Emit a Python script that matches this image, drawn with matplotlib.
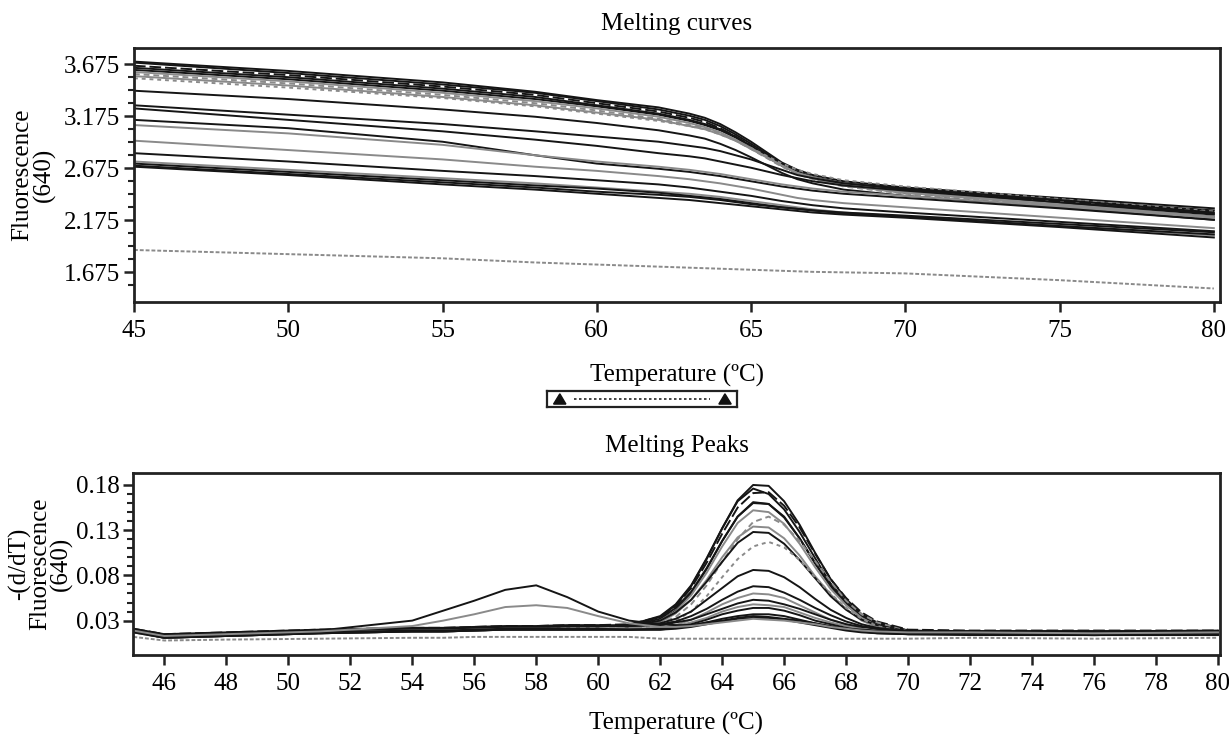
import numpy as np
import matplotlib
matplotlib.use("Agg")
import matplotlib.pyplot as plt
from matplotlib.ticker import FixedLocator
from matplotlib.patches import Polygon

# Temperaturas de muestreo (ºC)
temp_curvas = [45, 50, 55, 58, 60, 62, 63, 63.5, 64, 64.5, 65, 65.5, 66, 66.5, 67, 68, 70, 75, 80]
temp_picos = [45, 46, 48, 51, 54, 55, 56, 57, 58, 59, 60, 61,
              62, 62.5, 63, 63.5, 64, 64.5, 65, 65.5, 66, 66.5, 67, 67.5, 68, 68.5, 69, 70,
              72, 76, 80]

# Curvas de fusión - Fluorescence (640), una por muestra
m01 = [3.70, 3.61, 3.50, 3.41, 3.33, 3.26, 3.20, 3.16, 3.10, 3.02, 2.93, 2.83, 2.73, 2.66, 2.61, 2.55, 2.49, 2.39, 2.29]
m02 = [3.69, 3.59, 3.48, 3.40, 3.32, 3.24, 3.18, 3.14, 3.08, 3.00, 2.91, 2.815, 2.72, 2.64, 2.59, 2.53, 2.47, 2.37, 2.27]
m03 = [3.66, 3.57, 3.46, 3.38, 3.30, 3.22, 3.16, 3.12, 3.06, 2.98, 2.89, 2.795, 2.70, 2.63, 2.58, 2.52, 2.46, 2.36, 2.26]
m04 = [3.64, 3.55, 3.44, 3.36, 3.28, 3.20, 3.14, 3.10, 3.05, 2.98, 2.89, 2.80, 2.71, 2.64, 2.59, 2.52, 2.45, 2.34, 2.23]
m05 = [3.62, 3.53, 3.42, 3.34, 3.27, 3.19, 3.13, 3.09, 3.04, 2.97, 2.88, 2.79, 2.70, 2.63, 2.58, 2.51, 2.44, 2.33, 2.21]
m06 = [3.60, 3.51, 3.40, 3.32, 3.25, 3.17, 3.11, 3.07, 3.02, 2.95, 2.87, 2.785, 2.70, 2.63, 2.58, 2.51, 2.44, 2.32, 2.20]
m07 = [3.58, 3.49, 3.38, 3.30, 3.23, 3.15, 3.09, 3.06, 3.01, 2.94, 2.86, 2.775, 2.69, 2.62, 2.57, 2.50, 2.43, 2.31, 2.19]
m08 = [3.56, 3.47, 3.36, 3.28, 3.21, 3.14, 3.08, 3.05, 3.00, 2.94, 2.86, 2.78, 2.70, 2.63, 2.59, 2.52, 2.45, 2.33, 2.21]
m09 = [3.42, 3.34, 3.24, 3.17, 3.11, 3.04, 2.99, 2.96, 2.91, 2.85, 2.78, 2.705, 2.63, 2.57, 2.53, 2.47, 2.41, 2.30, 2.18]
m10 = [3.54, 3.45, 3.35, 3.27, 3.20, 3.13, 3.08, 3.05, 3.00, 2.94, 2.87, 2.795, 2.72, 2.66, 2.62, 2.56, 2.50, 2.38, 2.26]
m11 = [3.28, 3.19, 3.10, 3.03, 2.98, 2.93, 2.89, 2.87, 2.84, 2.80, 2.76, 2.71, 2.66, 2.61, 2.58, 2.53, 2.48, 2.37, 2.25]
m12 = [3.25, 3.14, 3.03, 2.95, 2.89, 2.82, 2.79, 2.77, 2.74, 2.71, 2.68, 2.645, 2.61, 2.58, 2.55, 2.51, 2.46, 2.35, 2.24]
m13 = [2.94, 2.85, 2.76, 2.69, 2.65, 2.60, 2.57, 2.55, 2.53, 2.505, 2.48, 2.45, 2.42, 2.39, 2.37, 2.34, 2.30, 2.20, 2.10]
m14 = [2.74, 2.66, 2.58, 2.53, 2.49, 2.45, 2.43, 2.415, 2.40, 2.38, 2.36, 2.34, 2.32, 2.30, 2.28, 2.25, 2.21, 2.12, 2.03]
m15 = [2.82, 2.74, 2.65, 2.60, 2.56, 2.52, 2.49, 2.47, 2.45, 2.43, 2.41, 2.385, 2.36, 2.34, 2.32, 2.29, 2.25, 2.16, 2.07]
m16 = [2.72, 2.64, 2.56, 2.51, 2.48, 2.44, 2.41, 2.395, 2.38, 2.36, 2.34, 2.32, 2.30, 2.285, 2.27, 2.24, 2.21, 2.12, 2.04]
m17 = [2.70, 2.62, 2.54, 2.49, 2.45, 2.42, 2.40, 2.385, 2.37, 2.35, 2.33, 2.315, 2.30, 2.285, 2.27, 2.25, 2.22, 2.14, 2.06]
m18 = [2.69, 2.61, 2.52, 2.47, 2.43, 2.39, 2.37, 2.355, 2.34, 2.325, 2.31, 2.295, 2.28, 2.265, 2.25, 2.23, 2.20, 2.11, 2.01]
m19 = [3.14, 3.06, 2.93, 2.80, 2.72, 2.67, 2.64, 2.62, 2.60, 2.575, 2.55, 2.525, 2.50, 2.48, 2.46, 2.43, 2.39, 2.29, 2.18]
m20 = [3.09, 3.01, 2.90, 2.80, 2.74, 2.69, 2.66, 2.64, 2.62, 2.595, 2.57, 2.545, 2.52, 2.50, 2.48, 2.45, 2.41, 2.31, 2.20]
m21 = [1.89, 1.85, 1.81, 1.77, 1.75, 1.73, 1.72, 1.715, 1.71, 1.705, 1.70, 1.695, 1.69, 1.685, 1.68, 1.675, 1.665, 1.60, 1.52]

# Picos de fusión - -(d/dT) Fluorescence (640)
p01 = [0.020, 0.014, 0.016, 0.019, 0.021, 0.021, 0.022, 0.023, 0.023, 0.024, 0.024, 0.025,
       0.034, 0.047, 0.068, 0.098, 0.132, 0.163, 0.180, 0.179, 0.162, 0.136, 0.105, 0.076, 0.054, 0.037, 0.028, 0.019,
       0.018, 0.018, 0.018]
p02 = [0.019, 0.013, 0.015, 0.018, 0.020, 0.021, 0.021, 0.022, 0.022, 0.023, 0.023, 0.025,
       0.035, 0.048, 0.069, 0.099, 0.132, 0.162, 0.176, 0.170, 0.153, 0.128, 0.099, 0.071, 0.051, 0.035, 0.027, 0.019,
       0.017, 0.017, 0.018]
p03 = [0.021, 0.015, 0.017, 0.020, 0.022, 0.022, 0.023, 0.024, 0.024, 0.025, 0.025, 0.026,
       0.034, 0.046, 0.066, 0.094, 0.126, 0.155, 0.171, 0.172, 0.157, 0.133, 0.104, 0.076, 0.055, 0.039, 0.029, 0.020,
       0.019, 0.019, 0.019]
p04 = [0.018, 0.011, 0.013, 0.016, 0.018, 0.018, 0.019, 0.020, 0.020, 0.020, 0.020, 0.022,
       0.030, 0.041, 0.060, 0.087, 0.118, 0.145, 0.161, 0.159, 0.145, 0.121, 0.093, 0.068, 0.048, 0.033, 0.024, 0.016,
       0.015, 0.014, 0.015]
p05 = [0.020, 0.014, 0.016, 0.019, 0.021, 0.021, 0.022, 0.023, 0.023, 0.024, 0.024, 0.024,
       0.032, 0.044, 0.062, 0.088, 0.118, 0.145, 0.160, 0.159, 0.144, 0.121, 0.094, 0.069, 0.049, 0.035, 0.027, 0.018,
       0.018, 0.018, 0.018]
p06 = [0.017, 0.012, 0.014, 0.017, 0.019, 0.019, 0.020, 0.021, 0.021, 0.021, 0.021, 0.021,
       0.030, 0.040, 0.058, 0.083, 0.112, 0.138, 0.152, 0.150, 0.137, 0.115, 0.089, 0.065, 0.047, 0.033, 0.024, 0.017,
       0.016, 0.015, 0.016]
p07 = [0.019, 0.013, 0.015, 0.018, 0.020, 0.020, 0.021, 0.022, 0.022, 0.023, 0.023, 0.023,
       0.027, 0.034, 0.048, 0.069, 0.095, 0.120, 0.139, 0.145, 0.136, 0.118, 0.096, 0.073, 0.052, 0.037, 0.028, 0.018,
       0.017, 0.017, 0.017]
p08 = [0.018, 0.012, 0.014, 0.017, 0.019, 0.019, 0.020, 0.021, 0.021, 0.021, 0.021, 0.021,
       0.028, 0.038, 0.053, 0.075, 0.100, 0.122, 0.134, 0.133, 0.121, 0.102, 0.079, 0.059, 0.043, 0.030, 0.023, 0.017,
       0.016, 0.015, 0.016]
p09 = [0.020, 0.014, 0.016, 0.019, 0.021, 0.021, 0.022, 0.023, 0.023, 0.024, 0.024, 0.024,
       0.030, 0.039, 0.053, 0.073, 0.095, 0.116, 0.128, 0.127, 0.115, 0.097, 0.077, 0.057, 0.042, 0.031, 0.025, 0.018,
       0.018, 0.018, 0.018]
p10 = [0.017, 0.011, 0.013, 0.016, 0.018, 0.018, 0.019, 0.020, 0.020, 0.020, 0.020, 0.021,
       0.024, 0.030, 0.040, 0.057, 0.078, 0.098, 0.112, 0.117, 0.111, 0.097, 0.078, 0.060, 0.044, 0.032, 0.024, 0.017,
       0.015, 0.014, 0.015]
p11 = [0.020, 0.014, 0.016, 0.019, 0.021, 0.021, 0.022, 0.023, 0.023, 0.024, 0.024, 0.025,
       0.027, 0.032, 0.040, 0.053, 0.066, 0.079, 0.086, 0.085, 0.078, 0.067, 0.054, 0.042, 0.033, 0.026, 0.022, 0.018,
       0.018, 0.018, 0.018]
p12 = [0.020, 0.014, 0.016, 0.019, 0.021, 0.021, 0.022, 0.023, 0.023, 0.024, 0.024, 0.024,
       0.026, 0.029, 0.035, 0.043, 0.053, 0.062, 0.068, 0.067, 0.061, 0.053, 0.044, 0.036, 0.029, 0.024, 0.021, 0.018,
       0.017, 0.017, 0.018]
p13 = [0.017, 0.011, 0.013, 0.016, 0.018, 0.018, 0.019, 0.020, 0.020, 0.020, 0.020, 0.020,
       0.022, 0.025, 0.031, 0.039, 0.048, 0.055, 0.060, 0.059, 0.055, 0.047, 0.039, 0.031, 0.026, 0.021, 0.018, 0.015,
       0.015, 0.014, 0.015]
p14 = [0.018, 0.012, 0.014, 0.017, 0.019, 0.019, 0.020, 0.021, 0.021, 0.021, 0.021, 0.021,
       0.022, 0.024, 0.028, 0.033, 0.040, 0.045, 0.048, 0.047, 0.045, 0.039, 0.033, 0.028, 0.024, 0.020, 0.018, 0.016,
       0.016, 0.015, 0.016]
p15 = [0.021, 0.015, 0.017, 0.020, 0.022, 0.022, 0.023, 0.024, 0.024, 0.025, 0.025, 0.024,
       0.025, 0.028, 0.031, 0.037, 0.043, 0.049, 0.053, 0.052, 0.048, 0.043, 0.037, 0.031, 0.026, 0.023, 0.021, 0.018,
       0.018, 0.018, 0.019]
p16 = [0.019, 0.012, 0.014, 0.017, 0.019, 0.019, 0.020, 0.021, 0.021, 0.021, 0.021, 0.020,
       0.021, 0.023, 0.026, 0.031, 0.037, 0.041, 0.044, 0.044, 0.041, 0.036, 0.030, 0.026, 0.022, 0.019, 0.017, 0.015,
       0.015, 0.014, 0.015]
p17 = [0.018, 0.011, 0.013, 0.016, 0.018, 0.018, 0.019, 0.020, 0.020, 0.020, 0.020, 0.020,
       0.020, 0.022, 0.024, 0.028, 0.032, 0.035, 0.037, 0.037, 0.035, 0.031, 0.027, 0.023, 0.020, 0.018, 0.016, 0.015,
       0.015, 0.014, 0.015]
p18 = [0.017, 0.011, 0.013, 0.016, 0.018, 0.018, 0.019, 0.020, 0.020, 0.020, 0.020, 0.020,
       0.020, 0.021, 0.023, 0.026, 0.029, 0.032, 0.033, 0.033, 0.031, 0.028, 0.025, 0.022, 0.019, 0.017, 0.016, 0.015,
       0.014, 0.014, 0.014]
p19 = [0.020, 0.014, 0.016, 0.019, 0.030, 0.041, 0.052, 0.064, 0.069, 0.056, 0.040, 0.030,
       0.026, 0.025, 0.025, 0.028, 0.030, 0.033, 0.035, 0.034, 0.032, 0.030, 0.027, 0.024, 0.021, 0.020, 0.019, 0.017,
       0.017, 0.017, 0.017]
p20 = [0.019, 0.013, 0.015, 0.018, 0.024, 0.030, 0.037, 0.045, 0.047, 0.044, 0.035, 0.027,
       0.023, 0.023, 0.024, 0.026, 0.028, 0.030, 0.032, 0.031, 0.030, 0.028, 0.026, 0.023, 0.021, 0.019, 0.018, 0.017,
       0.017, 0.016, 0.017]
p21 = [0.012, 0.008, 0.009, 0.010, 0.011, 0.011, 0.012, 0.012, 0.012, 0.012, 0.012, 0.012,
       0.010, 0.010, 0.010, 0.010, 0.010, 0.010, 0.010, 0.010, 0.010, 0.010, 0.010, 0.010, 0.010, 0.010, 0.010, 0.010,
       0.011, 0.010, 0.011]

# Color y trazo de cada muestra (negro / gris)
colores = ['k', 'k', 'k', 'k', 'k', 'g', 'g', 'g', 'k', 'g',
           'k', 'k', 'g', 'g', 'k', 'k', 'k', 'k', 'k', 'g', 'g']
estilos = ['-', '-', (0, (6, 2)), '-', '-', '-', (0, (3, 2)), '-', '-', (0, (2, 2)),
           '-', '-', '-', '-', '-', '-', '-', '-', '-', '-', (0, (2, 1))]

curvas = [m01, m02, m03, m04, m05, m06, m07, m08, m09, m10, m11,
          m12, m13, m14, m15, m16, m17, m18, m19, m20, m21]
picos = [p01, p02, p03, p04, p05, p06, p07, p08, p09, p10, p11,
         p12, p13, p14, p15, p16, p17, p18, p19, p20, p21]
tonos = {'k': '#151515', 'g': '#8a8a8a'}

plt.rcParams['font.family'] = ['Liberation Serif', 'DejaVu Serif']
plt.rcParams['font.size'] = 18

fig = plt.figure(figsize=(12.29, 7.39), dpi=100)
ax1 = fig.add_axes([0.109, 0.5913, 0.8837, 0.3437])
ax2 = fig.add_axes([0.1085, 0.1137, 0.8838, 0.2467])

for y, c, ls in zip(curvas, colores, estilos):
    ax1.plot(temp_curvas, y, color=tonos[c], lw=1.4, ls=ls)
for y, c, ls in zip(picos, colores, estilos):
    ax2.plot(temp_picos, y, color=tonos[c], lw=1.4, ls=ls)

# Gráfico superior
ax1.set_xlim(45, 80.2)
ax1.set_ylim(1.39, 3.83)
ax1.set_xticks([45, 50, 55, 60, 65, 70, 75, 80])
ax1.set_yticks([1.675, 2.175, 2.675, 3.175, 3.675])
ax1.set_yticklabels(['1.675', '2.175', '2.675', '3.175', '3.675'])
ax1.yaxis.set_minor_locator(FixedLocator(np.arange(1.55, 3.70, 0.125)))
ax1.set_title('Melting curves', fontsize=18, pad=13)
ax1.set_xlabel('Temperature (ºC)', labelpad=16)
ax1.set_ylabel('Fluorescence\n(640)', labelpad=6, linespacing=0.95)

# Gráfico inferior
ax2.set_xlim(45, 80.05)
ax2.set_ylim(-0.008, 0.1936)
ax2.set_xticks(list(range(46, 81, 2)))
ax2.set_yticks([0.03, 0.08, 0.13, 0.18])
ax2.set_yticklabels(['0.03', '0.08', '0.13', '0.18'])
ax2.yaxis.set_minor_locator(FixedLocator([v / 100 for v in range(4, 18) if v not in (8, 13)]))
ax2.set_title('Melting Peaks', fontsize=18, pad=15)
ax2.set_xlabel('Temperature (ºC)', labelpad=12)
ax2.set_ylabel('-(d/dT)\nFluorescence\n(640)', labelpad=2, linespacing=0.9)

for ax in (ax1, ax2):
    for s in ax.spines.values():
        s.set_linewidth(2)
        s.set_color('#222222')
    ax.tick_params(which='major', length=7, width=1.8, color='#222222')
    ax.tick_params(which='minor', length=4.5, width=1.5, color='#222222')
    ax.tick_params(axis='x', pad=6)
    ax.tick_params(axis='y', pad=3)

# Barra deslizante entre los dos gráficos
axs = fig.add_axes([0.445, 0.4493, 0.1546, 0.0217])
axs.set_xlim(0, 1)
axs.set_ylim(0, 1)
axs.set_xticks([])
axs.set_yticks([])
for s in axs.spines.values():
    s.set_linewidth(1.6)
    s.set_color('#222222')
axs.add_patch(Polygon([[0.035, 0.18], [0.10, 0.18], [0.068, 0.82]], closed=True, color='#111111'))
axs.add_patch(Polygon([[0.905, 0.18], [0.97, 0.18], [0.937, 0.82]], closed=True, color='#111111'))
axs.plot([0.14, 0.86], [0.5, 0.5], color='#222222', lw=1.2, ls=(0, (1.5, 1.5)))

fig.savefig('out.png', dpi=100)
